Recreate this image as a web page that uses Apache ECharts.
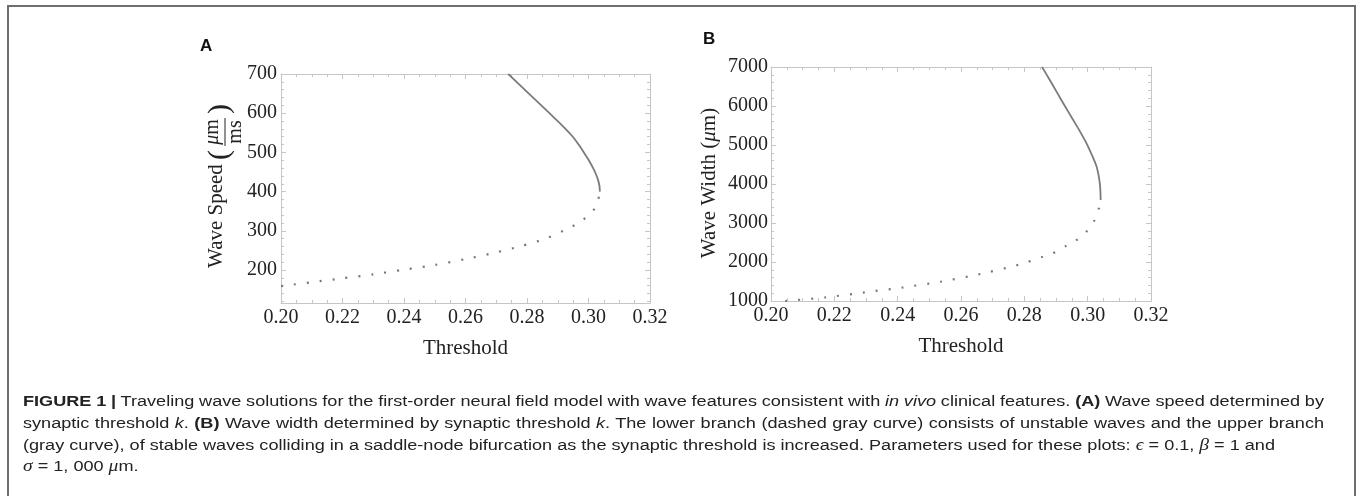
<!DOCTYPE html>
<html><head><meta charset="utf-8">
<script src="https://cdn.jsdelivr.net/npm/echarts@6/dist/echarts.min.js"></script>
<style>
html,body{margin:0;padding:0;width:1357px;height:496px;overflow:hidden;background:#fff;}
#frame{position:absolute;left:7px;top:5px;width:1345px;height:600px;border:2px solid #6e6e6e;box-sizing:content-box;}
#chart{position:absolute;left:0;top:0;width:1357px;height:496px;}
#caption{position:absolute;left:23px;top:390px;width:1320px;font-family:'Liberation Sans',Arial,sans-serif;font-size:15.3px;line-height:21.8px;color:#222;transform-origin:0 0;}
#caption div{white-space:nowrap;}
#caption span.in{display:inline-block;}
.m{font-family:'Liberation Serif',serif;font-style:italic;font-size:16.5px;}
</style></head>
<body>
<div id="frame"></div>
<div id="chart"></div>
<div id="caption">
<div class="j"><span class="in"><b>FIGURE 1 |</b> Traveling wave solutions for the first-order neural field model with wave features consistent with <i>in vivo</i> clinical features. <b>(A)</b> Wave speed determined by</span></div>
<div class="j"><span class="in">synaptic threshold <i>k</i>. <b>(B)</b> Wave width determined by synaptic threshold <i>k</i>. The lower branch (dashed gray curve) consists of unstable waves and the upper branch</span></div>
<div><span class="in">(gray curve), of stable waves colliding in a saddle-node bifurcation as the synaptic threshold is increased. Parameters used for these plots: <span class="m">ϵ</span> = 0.1, <span class="m">β</span> = 1 and</span></div>
<div><span class="in"><span class="m">σ</span> = 1, 000 <span class="m">μ</span>m.</span></div>
</div>
<script>
// ---- data ----
const thresholdTicks = [0.20, 0.22, 0.24, 0.26, 0.28, 0.30, 0.32];
const speedTicks = [200, 300, 400, 500, 600, 700];
const speedMinorTicks = [120, 140, 160, 180, 220, 240, 260, 280, 320, 340, 360, 380, 420, 440, 460, 480, 520, 540, 560, 580, 620, 640, 660, 680];
const widthTicks = [1000, 2000, 3000, 4000, 5000, 6000, 7000];

// Panel A: wave speed vs threshold
const thrA_lower = [0.200, 0.204, 0.210, 0.220, 0.230, 0.240, 0.250, 0.260, 0.270, 0.278, 0.286, 0.292, 0.296, 0.300, 0.302, 0.3030, 0.3037];
const speedA_lower = [159, 163, 169, 179, 189, 201, 213, 228, 245, 261, 280, 301, 317, 339, 357, 374, 400];
const thrA_upper = [0.3037, 0.30355, 0.3031, 0.3024, 0.3015, 0.3001, 0.2985, 0.2968, 0.2949, 0.2918, 0.2873, 0.2806, 0.2739];
const speedA_upper = [400, 415, 430, 445, 460, 480, 500, 520, 540, 566, 600, 650, 700];

// Panel B: wave width vs threshold
const thrB_lower = [0.2045, 0.2174, 0.2296, 0.2418, 0.2539, 0.2661, 0.2782, 0.2859, 0.2898, 0.2933, 0.2968, 0.2999, 0.3022, 0.3036, 0.3041];
const widthB_lower = [1000, 1094, 1222, 1350, 1500, 1692, 1930, 2136, 2256, 2419, 2582, 2803, 3077, 3393, 3590];
const thrB_upper = [0.3041, 0.30408, 0.3040, 0.30385, 0.3035, 0.3028, 0.3013, 0.2996, 0.2972, 0.2950, 0.2928, 0.2903, 0.2878, 0.2856];
const widthB_upper = [3590, 3700, 3850, 4000, 4200, 4450, 4750, 5050, 5400, 5700, 6000, 6350, 6700, 7000];

const pairs = (xs, ys) => xs.map((x, i) => [x, ys[i]]);

const frameCol = '#c6c6c6';
const textCol = '#222';
const serif = 'Liberation Serif';
const lineCol = '#7b7b7b';

function xAx(grid, pos, main) {
  return {
    type: 'value', gridIndex: grid, position: pos, min: 0.2, max: 0.32, interval: 0.02,
    axisLine: { show: true, onZero: false, lineStyle: { color: frameCol, width: 1 } },
    axisTick: { show: true, inside: true, length: 5, lineStyle: { color: frameCol } },
    minorTick: { show: true, splitNumber: 4, length: 3, lineStyle: { color: frameCol } },
    splitLine: { show: false }, minorSplitLine: { show: false },
    axisLabel: { show: main, customValues: thresholdTicks, margin: 5, fontFamily: serif, fontSize: 20, color: textCol, formatter: v => v.toFixed(2) },
    name: main ? 'Threshold' : '', nameLocation: 'middle', nameGap: 35,
    nameTextStyle: { fontFamily: serif, fontSize: 21, color: textCol }
  };
}
function yAxA(pos, main, ticks, len, showLine) {
  return {
    type: 'value', gridIndex: 0, position: pos, min: 116, max: 700,
    axisLine: { show: showLine, onZero: false, lineStyle: { color: frameCol, width: 1 } },
    axisTick: { show: true, inside: true, length: len, customValues: ticks, lineStyle: { color: frameCol } },
    splitLine: { show: false },
    axisLabel: { show: main, customValues: speedTicks, margin: 4, fontFamily: serif, fontSize: 20, color: textCol, formatter: v => String(v) }
  };
}
function yAxB(pos, main) {
  return {
    type: 'value', gridIndex: 1, position: pos, min: 1000, max: 7000, interval: 1000,
    axisLine: { show: true, onZero: false, lineStyle: { color: frameCol, width: 1 } },
    axisTick: { show: true, inside: true, length: 5, lineStyle: { color: frameCol } },
    minorTick: { show: true, splitNumber: 5, length: 3, lineStyle: { color: frameCol } },
    splitLine: { show: false }, minorSplitLine: { show: false },
    axisLabel: { show: main, customValues: widthTicks, margin: 3, fontFamily: serif, fontSize: 20, color: textCol, formatter: v => String(v) }
  };
}

const solid = { color: lineCol, width: 1.8 };
const dotted = { color: '#777', width: 2.2, type: [2, 11], cap: 'butt' };

const option = {
  animation: false,
  backgroundColor: 'transparent',
  grid: [
    { left: 281, top: 74, width: 369, height: 229, outerBoundsMode: 'none', containLabel: false },
    { left: 771, top: 67, width: 380, height: 234, outerBoundsMode: 'none', containLabel: false }
  ],
  xAxis: [xAx(0, 'bottom', true), xAx(0, 'top', false), xAx(1, 'bottom', true), xAx(1, 'top', false)],
  yAxis: [
    yAxA('left', true, speedTicks, 5, true),
    yAxA('left', false, speedMinorTicks, 3, false),
    yAxA('right', false, speedTicks, 5, true),
    yAxA('right', false, speedMinorTicks, 3, false),
    yAxB('left', true),
    yAxB('right', false)
  ],
  series: [
    { type: 'line', xAxisIndex: 0, yAxisIndex: 0, data: pairs(thrA_lower, speedA_lower), showSymbol: false, smooth: 0.25, lineStyle: dotted, clip: true },
    { type: 'line', xAxisIndex: 0, yAxisIndex: 0, data: pairs(thrA_upper, speedA_upper), showSymbol: false, smooth: 0.3, lineStyle: solid, clip: true },
    { type: 'line', xAxisIndex: 2, yAxisIndex: 4, data: pairs(thrB_lower, widthB_lower), showSymbol: false, smooth: 0.25, lineStyle: dotted, clip: true },
    { type: 'line', xAxisIndex: 2, yAxisIndex: 4, data: pairs(thrB_upper, widthB_upper), showSymbol: false, smooth: 0.3, lineStyle: solid, clip: true }
  ],
  graphic: [
    { type: 'text', x: 200, y: 46, style: { text: 'A', font: 'bold 17px "Liberation Sans"', fill: '#111', align: 'left', verticalAlign: 'middle' } },
    { type: 'text', x: 703, y: 39, style: { text: 'B', font: 'bold 17px "Liberation Sans"', fill: '#111', align: 'left', verticalAlign: 'middle' } },
    {
      type: 'group', x: 216, y: 268, rotation: Math.PI / 2,
      children: [
        { type: 'text', x: 0, y: 0, style: { text: 'Wave Speed', font: '21px "Liberation Serif"', fill: textCol, align: 'left', verticalAlign: 'middle' } },
        { type: 'text', x: 113, y: 4, style: { text: '(', font: '30px "Liberation Serif"', fill: textCol, align: 'center', verticalAlign: 'middle' } },
        { type: 'text', x: 136, y: 7, style: { text: '{i|μ}m', rich: { i: { fontStyle: 'italic', fontFamily: serif, fontSize: 20 } }, font: '20px "Liberation Serif"', fill: textCol, align: 'center', verticalAlign: 'bottom' } },
        { type: 'line', shape: { x1: 122, y1: 9, x2: 150, y2: 9 }, style: { stroke: textCol, lineWidth: 1 } },
        { type: 'text', x: 136, y: 10, style: { text: 'ms', font: '20px "Liberation Serif"', fill: textCol, align: 'center', verticalAlign: 'top' } },
        { type: 'text', x: 159, y: 4, style: { text: ')', font: '30px "Liberation Serif"', fill: textCol, align: 'center', verticalAlign: 'middle' } }
      ]
    },
    { type: 'text', x: 709, y: 183, rotation: Math.PI / 2, style: { text: 'Wave Width ({i|μ}m)', rich: { i: { fontStyle: 'italic', fontFamily: serif, fontSize: 21 } }, font: '21px "Liberation Serif"', fill: textCol, align: 'center', verticalAlign: 'middle' } }
  ]
};

const chart = echarts.init(document.getElementById('chart'), null, { renderer: 'canvas' });
chart.setOption(option);

// the caption in the figure is horizontally stretched: scale it so line 3 matches, then justify lines 1 and 2
const cap = document.getElementById('caption');
const spans = Array.from(cap.querySelectorAll('span.in'));
const w3 = spans[2].getBoundingClientRect().width;
const s = 1252 / w3;
[spans[0], spans[1]].forEach(el => {
  const w = el.getBoundingClientRect().width;
  const n = (el.textContent.match(/ /g) || []).length;
  if (n > 0) el.style.wordSpacing = ((1301 / s - w) / n) + 'px';
});
cap.style.transform = 'scaleX(' + s + ')';
</script>
</body></html>
